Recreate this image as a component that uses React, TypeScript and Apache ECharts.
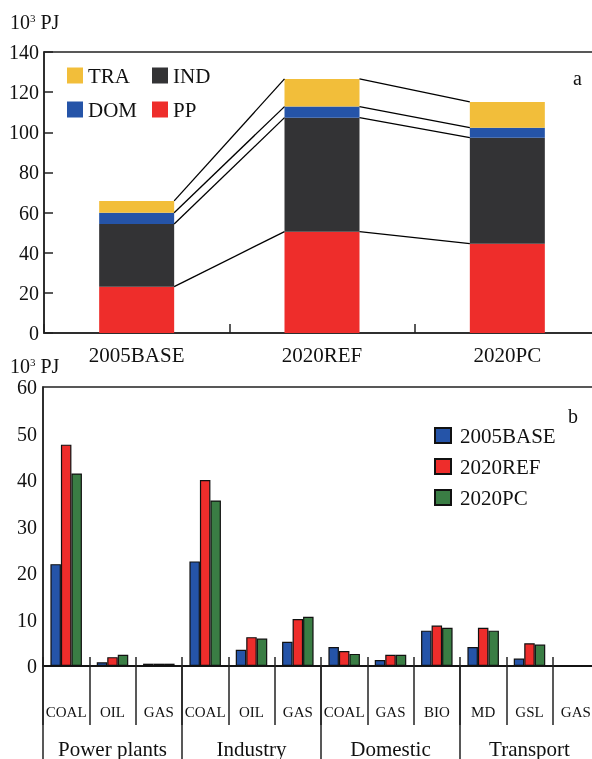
import React, { useEffect, useRef } from "react";
import * as echarts from "echarts";

const scenarios = ["2005BASE", "2020REF", "2020PC"];
const ppTop = [23.1, 50.5, 44.5];
const indTop = [31.2, 56.8, 52.8];
const domTop = [5.6, 5.5, 5.0];
const traTop = [5.9, 13.8, 12.8];

const subCats = ["COAL", "OIL", "GAS", "COAL", "OIL", "GAS", "COAL", "GAS", "BIO", "MD", "GSL", "GAS"];
const groups = ["Power plants", "Industry", "Domestic", "Transport"];
const base2005 = [21.9, 0.8, 0.5, 22.5, 3.5, 5.2, 4.1, 1.3, 7.6, 4.1, 1.6, 0];
const ref2020 = [47.6, 1.9, 0.5, 40.0, 6.2, 10.1, 3.2, 2.4, 8.7, 8.2, 4.9, 0];
const pc2020 = [41.4, 2.4, 0.5, 35.6, 5.9, 10.6, 2.6, 2.4, 8.2, 7.6, 4.6, 0];

const FONT = "Liberation Serif";
const AXIS = "#222";
const TOP_BAR_W = 75;

export default function App() {
  const ref = useRef<HTMLDivElement>(null);
  useEffect(() => {
    const chart = echarts.init(ref.current!, null, { renderer: "svg" });

    const layers = [ppTop, indTop, domTop, traTop];
    const cum: number[][] = [];
    let acc = scenarios.map(() => 0);
    layers.forEach((l) => {
      acc = acc.map((a, i) => a + l[i]);
      cum.push(acc.slice());
    });
    const connectors: number[][] = [];
    for (let i = 0; i < scenarios.length - 1; i++) {
      cum.forEach((c) => connectors.push([i, c[i], c[i + 1]]));
    }

    const txt = { fontFamily: FONT, color: "#111" };
    const supRich = {
      n: { fontFamily: FONT, fontSize: 20, fill: "#111", verticalAlign: "bottom" },
      s: { fontFamily: FONT, fontSize: 11, fill: "#111", verticalAlign: "top", padding: [0, 0, 8, 0] },
    };

    const option: any = {
      animation: false,
      grid: [
        { left: 44, top: 52, width: 556, height: 281, show: true, borderColor: AXIS, borderWidth: 1.5, backgroundColor: "transparent", outerBoundsMode: "none", containLabel: false },
        { left: 43, top: 387, width: 556, height: 279, show: true, borderColor: AXIS, borderWidth: 1.5, backgroundColor: "transparent", outerBoundsMode: "none", containLabel: false },
      ],
      legend: [
        {
          data: ["TRA", "DOM"], orient: "vertical", left: 67, top: 65, padding: 0, itemWidth: 16, itemHeight: 16, itemGap: 13, icon: "rect",
          textStyle: { ...txt, fontSize: 21, lineHeight: 20 }, itemStyle: { borderWidth: 0 },
        },
        {
          data: ["IND", "PP"], orient: "vertical", left: 152, top: 65, padding: 0, itemWidth: 16, itemHeight: 16, itemGap: 13, icon: "rect",
          textStyle: { ...txt, fontSize: 21, lineHeight: 20 }, itemStyle: { borderWidth: 0 },
        },
        {
          data: ["2005BASE", "2020REF", "2020PC"], orient: "vertical", left: 434, top: 425, padding: 0, itemWidth: 16, itemHeight: 15, itemGap: 10, itemTextGap: 11, icon: "rect",
          textStyle: { ...txt, fontSize: 21, lineHeight: 20, padding: [0, 0, 0, 4] },
        },
      ],
      xAxis: [
        {
          gridIndex: 0, type: "category", position: "bottom", data: scenarios,
          axisLine: { lineStyle: { color: AXIS, width: 1.5 } },
          axisTick: { show: true, inside: true, length: 9, lineStyle: { color: AXIS, width: 1.5 } },
          axisLabel: { ...txt, fontSize: 21, margin: 11 },
        },
        {
          gridIndex: 1, type: "category", position: "bottom", data: subCats,
          axisLine: { lineStyle: { color: "#000", width: 1.5 } },
          axisTick: { show: true, inside: true, length: 9, interval: 0, lineStyle: { color: AXIS, width: 1.5 } },
          axisLabel: { ...txt, fontSize: 15, margin: 38, interval: 0 },
        },
        {
          gridIndex: 1, type: "category", position: "bottom", offset: 0, data: subCats,
          axisLine: { show: false },
          axisTick: { show: true, inside: false, length: 59, interval: 0, lineStyle: { color: AXIS, width: 1.5 } },
          axisLabel: { show: false },
        },
        {
          gridIndex: 1, type: "category", position: "bottom", offset: 0, data: groups,
          axisLine: { show: false },
          axisTick: { show: true, inside: false, length: 95, interval: 0, lineStyle: { color: AXIS, width: 1.5 } },
          axisLabel: { ...txt, fontSize: 21, margin: 72, interval: 0 },
        },
      ],
      yAxis: [
        {
          gridIndex: 0, type: "value", min: 0, max: 140, interval: 20,
          axisLine: { show: true, lineStyle: { color: AXIS, width: 1.5 } },
          axisTick: { show: true, inside: true, length: 9, lineStyle: { color: AXIS, width: 1.5 } },
          splitLine: { show: false },
          axisLabel: { ...txt, fontSize: 20, margin: 5 },
        },
        {
          gridIndex: 1, type: "value", min: 0, max: 60, interval: 10,
          axisLine: { show: true, lineStyle: { color: AXIS, width: 1.5 } },
          axisTick: { show: false },
          splitLine: { show: false },
          axisLabel: { ...txt, fontSize: 20, margin: 6 },
        },
      ],
      series: [
        { name: "PP", type: "bar", stack: "t", xAxisIndex: 0, yAxisIndex: 0, data: ppTop, barWidth: TOP_BAR_W, itemStyle: { color: "#EE2D2B" } },
        { name: "IND", type: "bar", stack: "t", xAxisIndex: 0, yAxisIndex: 0, data: indTop, barWidth: TOP_BAR_W, itemStyle: { color: "#333335" } },
        { name: "DOM", type: "bar", stack: "t", xAxisIndex: 0, yAxisIndex: 0, data: domTop, barWidth: TOP_BAR_W, itemStyle: { color: "#2554A8" } },
        { name: "TRA", type: "bar", stack: "t", xAxisIndex: 0, yAxisIndex: 0, data: traTop, barWidth: TOP_BAR_W, itemStyle: { color: "#F2BE3A" } },
        {
          type: "custom", xAxisIndex: 0, yAxisIndex: 0, silent: true, z: 5,
          data: connectors, encode: { x: 0, y: [1, 2] },
          renderItem: (params: any, api: any) => {
            const i = api.value(0);
            const p0 = api.coord([i, api.value(1)]);
            const p1 = api.coord([i + 1, api.value(2)]);
            const hw = TOP_BAR_W / 2;
            return {
              type: "line",
              shape: { x1: p0[0] + hw, y1: p0[1], x2: p1[0] - hw, y2: p1[1] },
              style: { stroke: "#000", lineWidth: 1.3 },
            };
          },
        },
        { name: "2005BASE", type: "bar", xAxisIndex: 1, yAxisIndex: 1, data: base2005, barWidth: 10.5, barGap: "0%", itemStyle: { color: "#2554A8", borderColor: "#111", borderWidth: 1.2 } },
        { name: "2020REF", type: "bar", xAxisIndex: 1, yAxisIndex: 1, data: ref2020, barWidth: 10.5, barGap: "0%", itemStyle: { color: "#EE2D2B", borderColor: "#111", borderWidth: 1.2 } },
        { name: "2020PC", type: "bar", xAxisIndex: 1, yAxisIndex: 1, data: pc2020, barWidth: 10.5, barGap: "0%", itemStyle: { color: "#3A7D44", borderColor: "#111", borderWidth: 1.2 } },
      ],
      graphic: [
        { type: "text", left: 10, top: 12, style: { text: "{n|10}{s|3}{n| PJ}", rich: supRich } },
        { type: "text", left: 10, top: 356, style: { text: "{n|10}{s|3}{n| PJ}", rich: supRich } },
        { type: "text", left: 573, top: 68, style: { text: "a", fontFamily: FONT, fontSize: 20, fill: "#111" } },
        { type: "text", left: 568, top: 406, style: { text: "b", fontFamily: FONT, fontSize: 20, fill: "#111" } },
      ],
    };
    chart.setOption(option);
    return () => chart.dispose();
  }, []);
  return <div ref={ref} style={{ position: "fixed", left: 0, top: 0, width: 592, height: 759 }} />;
}
